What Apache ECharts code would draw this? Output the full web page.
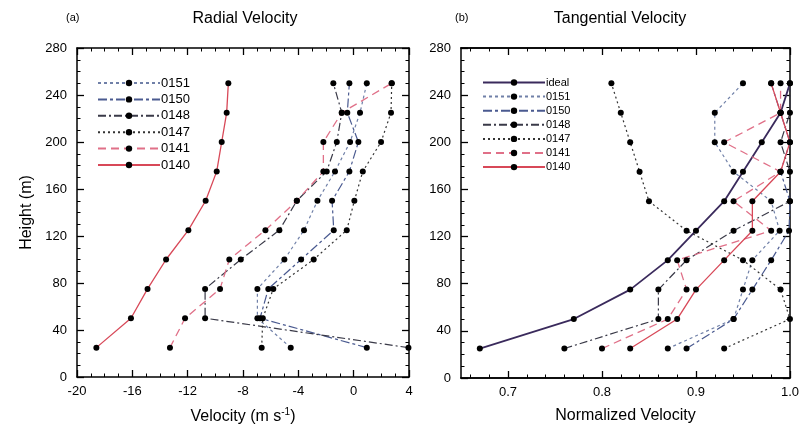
<!DOCTYPE html>
<html><head><meta charset="utf-8">
<script src="https://cdn.jsdelivr.net/npm/echarts@6/dist/echarts.min.js"></script>
<style>html,body{margin:0;padding:0;background:#fff}#c{width:802px;height:432px}</style>
</head><body><div id="c"></div>
<script>
// ---- data ----
const heights = [25, 50, 75, 100, 125, 150, 175, 200, 225, 250];

// (a) Radial velocity (m s-1)
const rad0151 = [-4.55, -6.96, -6.96, -5.01, -3.59, -2.62, -1.35, -0.26, 0.46, 0.95];
const rad0150 = [0.95, -6.77, -6.17, -3.80, -1.44, -1.56, -0.31, 0.34, -0.46, -0.31];
const rad0148 = [3.96, -10.74, -10.74, -8.16, -5.37, -4.11, -1.95, -1.22, -0.86, -1.47];
const rad0147 = [-6.65, -6.57, -5.81, -2.89, -0.50, 0.05, 0.66, 1.98, 2.70, 2.75];
const rad0141 = [-13.28, -12.19, -9.66, -8.99, -6.38, -4.11, -2.19, -2.19, -0.86, 2.75];
const rad0140 = [-18.6, -16.1, -14.9, -13.56, -11.95, -10.7, -9.9, -9.54, -9.18, -9.06];

// (b) Normalized tangential velocity
const tanIdeal = [0.67, 0.77, 0.83, 0.87, 0.90, 0.93, 0.95, 0.97, 0.99, 1.00];
const tan0151 = [0.87, 0.94, 0.95, 0.96, 0.989, 0.98, 0.94, 0.92, 0.92, 0.95];
const tan0150 = [0.89, 0.94, 0.96, 0.98, 0.999, 1.00, 0.99, 1.00, 0.99, 0.98];
const tan0148 = [0.76, 0.86, 0.86, 0.89, 0.94, 1.00, 1.00, 0.99, 1.00, 1.00];
const tan0147 = [0.93, 1.00, 0.99, 0.95, 0.89, 0.85, 0.84, 0.83, 0.82, 0.81];
const tan0141 = [0.80, 0.87, 0.89, 0.88, 0.98, 0.94, 0.99, 0.93, 0.99, 0.99];
const tan0140 = [0.83, 0.88, 0.90, 0.93, 0.96, 0.96, 0.99, 1.00, 0.99, 0.98];

// tick labels / values
const radTicks = [-20, -16, -12, -8, -4, 0, 4];
const tanMajorTicks = [0.7, 0.8, 0.9, 1.0];
const tanMinorTicks = [0.66, 0.68, 0.72, 0.74, 0.76, 0.78, 0.82, 0.84, 0.86, 0.88, 0.92, 0.94, 0.96, 0.98];
const heightTicks = [0, 40, 80, 120, 160, 200, 240, 280];

// ---- styles ----
const FONT = 'Liberation Sans, Arial, Helvetica, sans-serif';
const styles = {
  'ideal': {color: '#3a2a5c', type: 'solid', width: 1.8},
  '0151': {color: '#7080a8', type: [3, 3], width: 1.2},
  '0150': {color: '#4a5a90', type: [9, 3, 3, 3], width: 1.2},
  '0148': {color: '#3a3a48', type: [8, 3, 2, 3], width: 1.2},
  '0147': {color: '#333333', type: [2, 3], width: 1.2},
  '0141': {color: '#e07088', type: [8, 5], width: 1.3},
  '0140': {color: '#d84858', type: 'solid', width: 1.3}
};

function pairs(xs) { return xs.map((v, i) => [v, heights[i]]); }
function mkSeries(name, key, xs, xi, yi) {
  return {
    type: 'line', name: name, xAxisIndex: xi, yAxisIndex: yi,
    data: pairs(xs), symbol: 'circle', symbolSize: 6, clip: false,
    itemStyle: {color: '#000'}, lineStyle: styles[key], emphasis: {disabled: true},
    animation: false
  };
}

const axLine = {show: true, onZero: false, lineStyle: {color: '#000', width: 1.5}};
const majTick = {show: true, inside: true, length: 7, lineStyle: {color: '#000', width: 1.3}};
const minTick = {show: true, inside: true, length: 3.5, splitNumber: 4, lineStyle: {color: '#000', width: 1}};
const minTickCustom = {show: true, inside: true, length: 3.5, customValues: tanMinorTicks, lineStyle: {color: '#000', width: 1}};
const lbl = {color: '#000', fontSize: 13, fontFamily: FONT};

const xAxes = [
  // grid 0 bottom
  {gridIndex: 0, type: 'value', position: 'bottom', min: radTicks[0], max: radTicks[radTicks.length - 1], interval: 4,
   axisLine: axLine, axisTick: majTick, minorTick: minTick, splitLine: {show: false},
   axisLabel: Object.assign({margin: 8}, lbl),
   name: 'Velocity (m s{sup|-1})', nameLocation: 'middle', nameGap: 30,
   nameTextStyle: {fontSize: 16, fontFamily: FONT, color: '#000', lineHeight: 20,
     rich: {sup: {fontSize: 10, lineHeight: 12, verticalAlign: 'top', fontFamily: FONT, color: '#000'}}}},
  // grid 0 top
  {gridIndex: 0, type: 'value', position: 'top', min: -20, max: 4, interval: 4,
   axisLine: axLine, axisTick: majTick, minorTick: minTick, splitLine: {show: false}, axisLabel: {show: false}},
  // grid 1 bottom major
  {gridIndex: 1, type: 'value', position: 'bottom', min: 0.65, max: 1.0,
   axisLine: axLine, axisTick: Object.assign({customValues: tanMajorTicks}, majTick), splitLine: {show: false},
   axisLabel: Object.assign({margin: 8, customValues: tanMajorTicks, formatter: v => v.toFixed(1)}, lbl),
   name: 'Normalized Velocity', nameLocation: 'middle', nameGap: 30,
   nameTextStyle: {fontSize: 16, fontFamily: FONT, color: '#000'}},
  // grid 1 bottom minor
  {gridIndex: 1, type: 'value', position: 'bottom', min: 0.65, max: 1.0,
   axisLine: axLine, axisTick: minTickCustom, splitLine: {show: false}, axisLabel: {show: false}},
  // grid 1 top major
  {gridIndex: 1, type: 'value', position: 'top', min: 0.65, max: 1.0,
   axisLine: axLine, axisTick: Object.assign({customValues: tanMajorTicks}, majTick), splitLine: {show: false},
   axisLabel: {show: false}},
  // grid 1 top minor
  {gridIndex: 1, type: 'value', position: 'top', min: 0.65, max: 1.0,
   axisLine: axLine, axisTick: minTickCustom, splitLine: {show: false}, axisLabel: {show: false}}
];

function yAx(g, pos, showLbl, name) {
  const a = {gridIndex: g, type: 'value', position: pos, min: heightTicks[0], max: heightTicks[heightTicks.length - 1], interval: 40,
    axisLine: axLine, axisTick: majTick, minorTick: minTick, splitLine: {show: false},
    axisLabel: showLbl ? Object.assign({margin: 10}, lbl) : {show: false}};
  if (name) {
    a.name = name; a.nameLocation = 'middle'; a.nameGap = 42;
    a.nameTextStyle = {fontSize: 16, fontFamily: FONT, color: '#000'};
  }
  return a;
}
const yAxes = [yAx(0, 'left', true, 'Height (m)'), yAx(0, 'right', false), yAx(1, 'left', true), yAx(1, 'right', false)];

const series = [
  mkSeries('0151', '0151', rad0151, 0, 0),
  mkSeries('0150', '0150', rad0150, 0, 0),
  mkSeries('0148', '0148', rad0148, 0, 0),
  mkSeries('0147', '0147', rad0147, 0, 0),
  mkSeries('0141', '0141', rad0141, 0, 0),
  mkSeries('0140', '0140', rad0140, 0, 0),
  mkSeries('b_ideal', 'ideal', tanIdeal, 2, 2),
  mkSeries('b_0151', '0151', tan0151, 2, 2),
  mkSeries('b_0150', '0150', tan0150, 2, 2),
  mkSeries('b_0148', '0148', tan0148, 2, 2),
  mkSeries('b_0147', '0147', tan0147, 2, 2),
  mkSeries('b_0141', '0141', tan0141, 2, 2),
  mkSeries('b_0140', '0140', tan0140, 2, 2)
];

const chart = echarts.init(document.getElementById('c'), null, {renderer: 'canvas'});
chart.setOption({
  animation: false,
  backgroundColor: '#fff',
  grid: [
    {left: 77, top: 48, width: 332, height: 330},
    {left: 461, top: 48, width: 331, height: 330}
  ],
  xAxis: xAxes,
  yAxis: yAxes,
  legend: [
    {data: ['0151', '0150', '0148', '0147', '0141', '0140'], orient: 'vertical', left: 92, top: 71,
     itemWidth: 62, itemHeight: 8, itemGap: 2.4, selectedMode: false,
     textStyle: {fontSize: 13, fontFamily: FONT, color: '#000', lineHeight: 14, padding: [0, 0, 0, -4]}},
    {data: ['b_ideal', 'b_0151', 'b_0150', 'b_0148', 'b_0147', 'b_0141', 'b_0140'], orient: 'vertical', left: 477, top: 71,
     itemWidth: 62, itemHeight: 8, itemGap: 1.1, selectedMode: false,
     formatter: n => n.replace(/^b_/, ''),
     textStyle: {fontSize: 11, fontFamily: FONT, color: '#000', lineHeight: 13, padding: [0, 0, 0, -4]}}
  ],
  graphic: [
    {type: 'text', left: 66, top: 12, style: {text: '(a)', fontSize: 11, fontFamily: FONT, fill: '#000'}},
    {type: 'text', x: 245, y: 19, style: {text: 'Radial Velocity', fontSize: 16, fontFamily: FONT, fill: '#000', textAlign: 'center', textVerticalAlign: 'middle'}},
    {type: 'text', left: 455, top: 12, style: {text: '(b)', fontSize: 11, fontFamily: FONT, fill: '#000'}},
    {type: 'text', x: 620, y: 19, style: {text: 'Tangential Velocity', fontSize: 16, fontFamily: FONT, fill: '#000', textAlign: 'center', textVerticalAlign: 'middle'}}
  ],
  series: series
});
</script></body></html>
